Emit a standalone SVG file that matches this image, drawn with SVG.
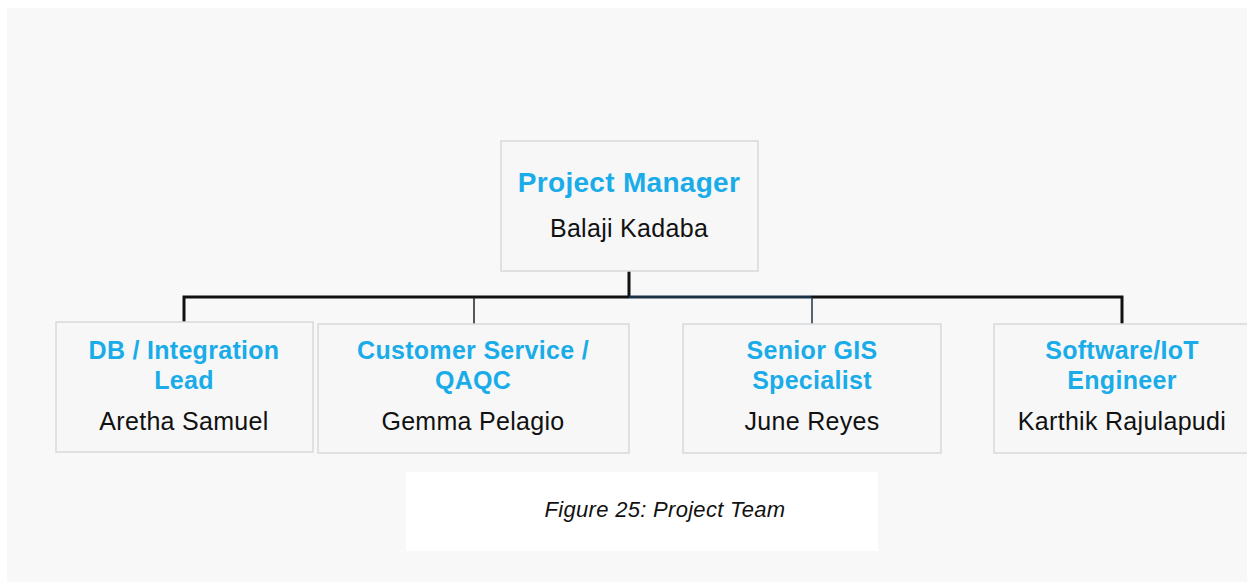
<svg xmlns="http://www.w3.org/2000/svg" width="1247" height="582" viewBox="0 0 1247 582">
<defs>
<style>
.box{fill:#f7f7f7;stroke:#d9d9d9;stroke-width:1.5}
.title{font-family:"Liberation Sans",Arial,sans-serif;font-weight:bold;font-size:25px;letter-spacing:0.3px;fill:#19ace9;text-anchor:middle}
.big{font-size:28px}
.name{font-family:"Liberation Sans",Arial,sans-serif;font-size:25px;letter-spacing:0.3px;fill:#111;text-anchor:middle}
.cap{font-family:"Liberation Sans",Arial,sans-serif;font-style:italic;font-size:22px;letter-spacing:0.3px;fill:#111;text-anchor:middle}
.thick{stroke:#111;stroke-width:3;fill:none}
.thin{stroke:#222;stroke-width:1.5;fill:none}
</style>
</defs>
<rect x="0" y="0" width="1247" height="582" fill="#ffffff"/>
<rect x="7" y="8" width="1240" height="574" fill="#f8f8f8"/>
<g id="connectors">
<path class="thick" d="M629 271 V297 M184 322 V297 H629"/>
<path d="M629 297 H811" stroke="#1c3346" stroke-width="3" fill="none"/>
<path class="thick" d="M811 297 H1122 V324"/>
<path class="thin" d="M474 297 V324"/>
<path d="M812 297 V324" stroke="#1c3346" stroke-width="1.5" fill="none"/>
</g>
<g id="pm">
<rect class="box" x="501" y="141" width="257" height="130"/>
<text class="title big" x="629" y="192">Project Manager</text>
<text class="name" x="629" y="237">Balaji Kadaba</text>
</g>
<g id="db">
<rect class="box" x="56" y="322" width="257" height="130"/>
<text class="title" x="184" y="359">DB / Integration</text>
<text class="title" x="184" y="389">Lead</text>
<text class="name" x="184" y="430">Aretha Samuel</text>
</g>
<g id="cs">
<rect class="box" x="318" y="324" width="311" height="129"/>
<text class="title" x="473" y="359">Customer Service /</text>
<text class="title" x="473" y="389">QAQC</text>
<text class="name" x="473" y="430">Gemma Pelagio</text>
</g>
<g id="gis">
<rect class="box" x="683" y="324" width="258" height="129"/>
<text class="title" x="812" y="359">Senior GIS</text>
<text class="title" x="812" y="389">Specialist</text>
<text class="name" x="812" y="430">June Reyes</text>
</g>
<g id="sw">
<rect class="box" x="994" y="324" width="260" height="129"/>
<text class="title" x="1122" y="359">Software/IoT</text>
<text class="title" x="1122" y="389">Engineer</text>
<text class="name" x="1122" y="430">Karthik Rajulapudi</text>
</g>
<g id="caption">
<rect x="406" y="472" width="472" height="79" fill="#ffffff"/>
<text class="cap" x="665" y="517">Figure 25: Project Team</text>
</g>
</svg>
